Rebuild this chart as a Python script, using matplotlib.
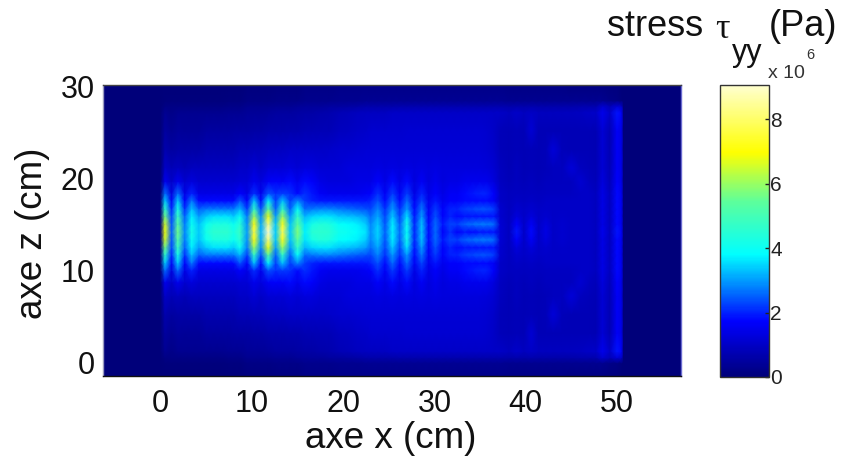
"""Stress map tau_yy over the x/z plane, with colorbar."""
import numpy as np
import matplotlib
matplotlib.use("Agg")
import matplotlib.pyplot as plt
from matplotlib.colors import LinearSegmentedColormap

plt.rcParams["font.family"] = ["Liberation Sans", "DejaVu Sans"]

# x positions of the columns (cm), following the fringes
x_cm = [-6.3, 0.0, 0.5, 1.2, 1.9, 2.65, 3.4, 4.2, 5.0, 5.8, 6.6, 7.4, 8.0, 8.7, 9.5, 10.25, 11.0,
        11.8, 12.6, 13.35, 14.2, 15.0, 15.8, 16.6, 17.5, 18.5, 19.5, 20.5, 21.5, 22.5, 23.0, 23.8,
        24.6, 25.4, 26.2, 27.0, 27.8, 28.6, 29.35, 30.1, 30.9, 31.7, 32.5, 33.3, 34.1, 34.9, 35.7,
        36.5, 37.2, 38.2, 39.0, 39.8, 40.6, 41.4, 42.2, 43.0, 44.0, 45.0, 46.0, 47.0, 47.7, 48.4,
        49.2, 50.0, 50.5, 50.7, 57.0]

# the map is mirrored about this height; rows are read as distance from it (cm)
z_center = 14.2
z_offsets = [0, 0.85, 1.7, 2.5, 3.4, 4.2, 5.5, 7, 9, 11, 13, 13.7, 14.3, 16.2]

# stress in units of 1e6 Pa, one list per row of z_offsets
row_00 = [0, 0, 6.8, 2.5, 5.6, 2.8, 4.2, 3.4, 4.2, 4.6, 4.6, 4.6, 4.2, 4.8, 3.0, 7.6, 3.2, 9.0, 3.4, 7.8, 3.4, 5.8, 3.7, 4.5, 4.6, 4.5, 4.1, 4.0, 3.8, 3.6, 2.9, 3.5, 2.5, 3.7, 2.6, 3.9, 2.0, 3.3, 1.8, 2.6, 1.7, 2.1, 1.7, 1.9, 1.8, 1.9, 1.9, 1.9, 1.2, 0.9, 1.9, 1.0, 1.8, 1.0, 1.4, 1.0, 1.1, 1.0, 1.0, 1.0, 0.9, 1.5, 0.9, 1.9, 1.6, 0, 0]
row_01 = [0, 0, 6.5, 2.4, 5.3, 2.7, 4.0, 3.3, 4.0, 4.3, 4.3, 4.3, 4.0, 4.5, 2.9, 7.1, 3.1, 8.2, 3.3, 7.2, 3.3, 5.4, 3.6, 4.2, 4.4, 4.3, 3.9, 3.8, 3.7, 3.4, 2.8, 3.4, 2.4, 3.7, 2.5, 4.1, 2.0, 3.3, 1.8, 2.6, 1.9, 2.3, 2.2, 2.5, 2.6, 2.7, 2.7, 2.6, 1.2, 0.9, 1.7, 1.0, 1.6, 1.0, 1.3, 1.0, 1.1, 1.0, 1.0, 1.0, 0.9, 1.4, 0.9, 1.8, 1.5, 0, 0]
row_02 = [0, 0, 5.6, 2.3, 4.8, 2.5, 3.7, 3.0, 3.4, 3.6, 3.6, 3.6, 3.4, 4.0, 2.7, 6.0, 2.9, 6.8, 3.0, 6.0, 3.0, 4.7, 3.2, 3.5, 3.6, 3.6, 3.4, 3.3, 3.2, 3.0, 2.6, 3.1, 2.3, 3.4, 2.3, 3.6, 1.9, 3.0, 1.7, 2.4, 1.7, 2.0, 1.8, 1.9, 1.9, 1.9, 1.9, 1.9, 1.1, 0.9, 1.3, 1.0, 1.3, 1.0, 1.1, 1.0, 1.05, 1.0, 1.0, 1.0, 0.9, 1.4, 0.9, 1.8, 1.5, 0, 0]
row_03 = [0, 0, 4.6, 2.0, 4.2, 2.1, 3.3, 2.5, 2.7, 2.7, 2.7, 2.7, 2.7, 3.2, 2.2, 4.7, 2.4, 5.4, 2.5, 4.7, 2.5, 3.9, 2.6, 2.7, 2.8, 2.8, 2.7, 2.6, 2.5, 2.4, 2.3, 2.8, 2.1, 3.0, 2.1, 3.0, 1.8, 2.7, 1.6, 2.2, 1.7, 2.0, 2.0, 2.2, 2.3, 2.4, 2.4, 2.2, 1.1, 0.9, 1.1, 1.0, 1.1, 1.0, 1.05, 1.0, 1.0, 1.0, 1.0, 1.0, 0.9, 1.4, 0.9, 1.8, 1.5, 0, 0]
row_04 = [0, 0, 3.4, 1.6, 3.4, 1.7, 2.7, 1.8, 1.8, 1.8, 1.8, 1.8, 1.8, 2.4, 1.7, 3.3, 1.8, 3.7, 2.2, 3.3, 2.2, 2.8, 2.2, 2.0, 1.9, 1.9, 1.9, 1.9, 1.9, 1.9, 2.0, 2.4, 1.8, 2.6, 1.8, 2.6, 1.6, 2.3, 1.5, 1.9, 1.5, 1.7, 1.7, 1.8, 1.8, 1.8, 1.8, 1.6, 1.0, 0.9, 1.0, 0.95, 1.0, 0.95, 1.0, 1.0, 1.0, 1.0, 1.0, 1.0, 0.9, 1.4, 0.9, 1.8, 1.5, 0, 0]
row_05 = [0, 0, 2.6, 1.3, 2.6, 1.4, 2.0, 1.4, 1.4, 1.4, 1.4, 1.4, 1.4, 1.7, 1.4, 2.1, 1.5, 2.4, 2.1, 2.2, 2.1, 1.8, 2.1, 1.9, 1.6, 1.5, 1.5, 1.5, 1.5, 1.6, 1.7, 2.1, 1.6, 2.2, 1.6, 2.2, 1.4, 2.0, 1.4, 1.7, 1.4, 1.6, 1.6, 1.8, 1.9, 2.0, 2.0, 1.7, 1.0, 0.9, 0.95, 0.9, 0.95, 0.9, 0.95, 0.95, 0.95, 0.95, 1.0, 1.0, 0.9, 1.4, 0.9, 1.8, 1.5, 0, 0]
row_06 = [0, 0, 1.5, 1.0, 1.5, 1.1, 1.3, 1.1, 1.1, 1.1, 1.1, 1.1, 1.1, 1.2, 1.2, 1.5, 1.3, 1.6, 1.7, 1.6, 1.8, 1.5, 1.8, 1.7, 1.4, 1.3, 1.3, 1.3, 1.4, 1.4, 1.4, 1.7, 1.4, 1.8, 1.4, 1.8, 1.3, 1.6, 1.3, 1.5, 1.3, 1.4, 1.4, 1.5, 1.5, 1.5, 1.5, 1.3, 0.95, 0.85, 0.9, 0.85, 0.9, 0.85, 0.9, 0.9, 0.9, 0.9, 1.15, 0.9, 0.85, 1.3, 0.85, 1.7, 1.4, 0, 0]
row_07 = [0, 0, 1.0, 0.8, 0.9, 0.8, 0.9, 0.9, 0.9, 0.9, 0.9, 0.9, 0.9, 1.0, 1.0, 1.2, 1.0, 1.2, 1.2, 1.2, 1.3, 1.2, 1.3, 1.3, 1.2, 1.2, 1.2, 1.3, 1.3, 1.3, 1.3, 1.35, 1.3, 1.35, 1.3, 1.35, 1.3, 1.35, 1.3, 1.35, 1.3, 1.3, 1.3, 1.3, 1.3, 1.3, 1.25, 1.15, 0.9, 0.8, 0.9, 0.8, 0.85, 0.8, 0.85, 0.9, 0.9, 1.25, 0.9, 0.85, 0.8, 1.2, 0.8, 1.6, 1.4, 0, 0]
row_08 = [0, 0, 0.7, 0.5, 0.6, 0.6, 0.6, 0.6, 0.7, 0.7, 0.7, 0.7, 0.7, 0.8, 0.8, 0.85, 0.85, 0.9, 0.95, 0.95, 1.0, 1.0, 1.0, 1.0, 1.0, 1.05, 1.1, 1.1, 1.15, 1.2, 1.2, 1.2, 1.2, 1.2, 1.2, 1.2, 1.2, 1.2, 1.2, 1.2, 1.2, 1.2, 1.2, 1.2, 1.2, 1.2, 1.15, 1.05, 0.85, 0.8, 0.85, 0.8, 0.85, 0.8, 0.85, 1.25, 0.85, 0.8, 0.8, 0.8, 0.75, 1.2, 0.75, 1.6, 1.4, 0, 0]
row_09 = [0, 0, 0.5, 0.35, 0.45, 0.4, 0.4, 0.4, 0.5, 0.5, 0.5, 0.5, 0.55, 0.55, 0.55, 0.6, 0.6, 0.65, 0.65, 0.65, 0.7, 0.7, 0.75, 0.75, 0.8, 0.8, 0.9, 0.95, 1.0, 1.05, 1.1, 1.1, 1.1, 1.1, 1.1, 1.15, 1.15, 1.15, 1.15, 1.15, 1.15, 1.15, 1.15, 1.15, 1.15, 1.15, 1.1, 1.0, 0.85, 0.8, 0.85, 0.8, 1.2, 0.8, 0.8, 0.8, 0.8, 0.8, 0.8, 0.8, 0.75, 1.2, 0.75, 1.6, 1.4, 0, 0]
row_10 = [0, 0, 0.35, 0.2, 0.3, 0.3, 0.3, 0.3, 0.3, 0.3, 0.3, 0.35, 0.35, 0.35, 0.4, 0.4, 0.4, 0.45, 0.5, 0.5, 0.5, 0.55, 0.6, 0.6, 0.65, 0.7, 0.8, 0.85, 0.9, 0.95, 0.95, 0.95, 0.95, 1.0, 1.0, 1.0, 1.0, 1.0, 1.0, 1.0, 1.0, 1.0, 1.0, 1.0, 1.0, 1.0, 1.0, 1.0, 1.0, 0.9, 1.05, 0.9, 1.0, 0.9, 0.9, 0.9, 0.9, 0.9, 0.95, 1.0, 1.0, 1.5, 1.0, 1.9, 1.6, 0, 0]
row_11 = [0, 0, 0.15, 0.15, 0.15, 0.15, 0.15, 0.15, 0.15, 0.15, 0.15, 0.2, 0.2, 0.2, 0.3, 0.3, 0.3, 0.3, 0.35, 0.35, 0.35, 0.4, 0.45, 0.45, 0.45, 0.5, 0.5, 0.55, 0.6, 0.65, 0.65, 0.65, 0.65, 0.65, 0.7, 0.7, 0.7, 0.7, 0.7, 0.7, 0.7, 0.7, 0.7, 0.7, 0.7, 0.7, 0.7, 0.7, 0.7, 0.65, 0.7, 0.65, 0.7, 0.65, 0.65, 0.65, 0.65, 0.65, 0.7, 0.7, 0.7, 1.1, 0.8, 1.2, 1.0, 0, 0]
row_12 = [0, 0, 0.05, 0.05, 0.05, 0.05, 0.05, 0.05, 0.05, 0.05, 0.05, 0.1, 0.1, 0.1, 0.15, 0.15, 0.15, 0.15, 0.2, 0.2, 0.2, 0.2, 0.25, 0.25, 0.25, 0.25, 0.3, 0.3, 0.3, 0.35, 0.35, 0.35, 0.35, 0.35, 0.35, 0.35, 0.35, 0.35, 0.35, 0.35, 0.35, 0.35, 0.35, 0.35, 0.35, 0.35, 0.35, 0.35, 0.35, 0.3, 0.3, 0.3, 0.3, 0.3, 0.3, 0.3, 0.3, 0.3, 0.3, 0.3, 0.3, 0.3, 0.2, 0.15, 0.05, 0, 0]
row_13 = [0, 0, 0, 0, 0, 0, 0, 0, 0, 0, 0, 0, 0, 0, 0.05, 0.05, 0.05, 0.05, 0.1, 0.1, 0.1, 0.1, 0.15, 0.15, 0.15, 0.15, 0.2, 0.2, 0.2, 0.2, 0.2, 0.2, 0.2, 0.2, 0.2, 0.2, 0.2, 0.2, 0.2, 0.2, 0.2, 0.2, 0.2, 0.2, 0.2, 0.2, 0.2, 0.2, 0.2, 0.15, 0.15, 0.15, 0.15, 0.15, 0.15, 0.15, 0.15, 0.1, 0.1, 0.1, 0.1, 0.1, 0.05, 0.05, 0, 0, 0]
half_rows = [row_00, row_01, row_02, row_03, row_04, row_05, row_06,
             row_07, row_08, row_09, row_10, row_11, row_12, row_13]

x_ticks = [0, 10, 20, 30, 40, 50]
z_ticks = [0, 10, 20, 30]
cb_ticks = [0, 2, 4, 6, 8]

W, H = 842, 459

# colour scale
stress_cmap = LinearSegmentedColormap.from_list("stress", [
    (0.0, "#00007a"), (0.19, "#0000ff"), (0.42, "#00ffff"), (0.60, "#5cff9c"),
    (0.77, "#ffff00"), (1.0, "#ffffd0"),
])


def ax_box(left, top, right, bottom):
    return [left / W, 1 - bottom / H, (right - left) / W, (bottom - top) / H]


def px_text(x, y, s, **kw):
    return fig.text(x / W, 1 - y / H, s, **kw)


half = np.array(half_rows)
stress = np.vstack([half[:0:-1], half])
z_cm = z_center + np.concatenate([-np.array(z_offsets)[:0:-1], np.array(z_offsets)])

fig = plt.figure(figsize=(W / 100, H / 100), dpi=100)
ax = fig.add_axes(ax_box(103, 85, 681, 376))
mesh = ax.pcolormesh(x_cm, z_cm, stress, shading="gouraud", cmap=stress_cmap, vmin=0, vmax=9.07)
ax.set_xlim(-6.3, 57.0)
ax.set_ylim(-1.5, 30.2)
ax.set_xticks(x_ticks)
ax.set_yticks(z_ticks)
ax.tick_params(length=0, labelsize=22, colors="#111111")
ax.tick_params(axis="x", pad=9)
ax.tick_params(axis="y", pad=6)
for side, col in zip(["top", "bottom", "left", "right"], ["#444444", "#111111", "#9a9ac0", "#6a6ad0"]):
    ax.spines[side].set_color(col)
    ax.spines[side].set_linewidth(1.0)

cax = fig.add_axes(ax_box(720, 85, 769, 377))
cb = fig.colorbar(mesh, cax=cax)
cb.set_ticks(cb_ticks)
cb.ax.tick_params(direction="in", length=3, width=1, labelsize=15, pad=1, colors="#222222")
cb.outline.set_edgecolor("#333333")
cb.outline.set_linewidth(1.0)

px_text(391, 438, "axe x (cm)", fontsize=26.5, ha="center", va="center", color="#111111")
px_text(33, 233, "axe z (cm)", fontsize=26.5, ha="center", va="center", rotation=90, color="#111111")

# title pieces sit one by one, as in the reference
px_text(607, 27, "stress", fontsize=26, ha="left", va="center", color="#111111")
px_text(715, 30, "τ", fontsize=26, ha="left", va="center", color="#111111", family="Liberation Serif")
px_text(732, 53, "yy", fontsize=22, ha="left", va="center", color="#111111")
px_text(769, 27, "(Pa)", fontsize=26, ha="left", va="center", color="#111111")
px_text(768, 74, "x 10", fontsize=14, ha="left", va="center", color="#333333")
px_text(806, 55, "6", fontsize=10.5, ha="left", va="center", color="#333333")

fig.savefig("out.png", dpi=100)
